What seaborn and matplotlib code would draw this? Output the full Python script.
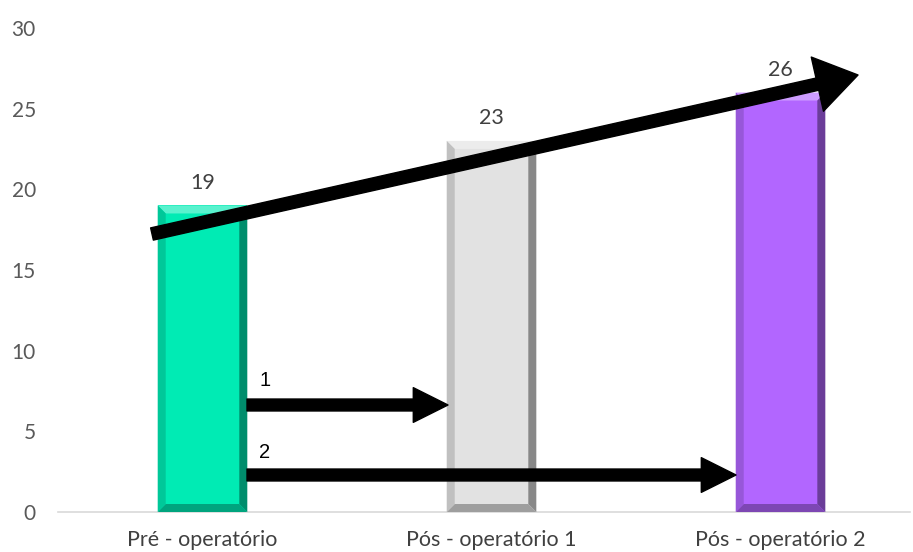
import matplotlib
matplotlib.use("Agg")
import matplotlib.pyplot as plt
import matplotlib.colors as mcolors
from matplotlib.patches import Polygon
import seaborn as sns
import pandas as pd

# Chart data
categories = ["Pré - operatório", "Pós - operatório 1", "Pós - operatório 2"]
values = [19, 23, 26]
bar_colors = ["#00EBB4", "#E2E2E2", "#B266FF"]
y_ticks = [0, 5, 10, 15, 20, 25, 30]
arrow_labels = ["1", "2"]

df = pd.DataFrame({"etapa": categories, "valor": values})

sns.set_theme(style="white")
plt.rcParams["font.family"] = ["Lato", "DejaVu Sans"]

W, H, DPI = 913, 552, 100
fig = plt.figure(figsize=(W / DPI, H / DPI), dpi=DPI)
ax = fig.add_axes([58 / W, (H - 512) / H, (910 - 58) / W, (512 - 28) / H])

sns.barplot(data=df, x="etapa", y="valor", hue="etapa", palette=bar_colors,
            width=0.31, legend=False, ax=ax, saturation=1)

ax.set_xlim(-0.5, 2.448)
ax.set_ylim(0, 30)
ax.set_yticks(y_ticks)
ax.set_xlabel("")
ax.set_ylabel("")
for s in ["top", "right", "left"]:
    ax.spines[s].set_visible(False)
ax.spines["bottom"].set_color("#D9D9D9")
ax.spines["bottom"].set_linewidth(1.2)
ax.tick_params(axis="y", length=0, pad=16, labelsize=15, labelcolor="#595959")
ax.tick_params(axis="x", length=0, pad=13, labelsize=15.5, labelcolor="#404040")


def shade(color, f):
    r, g, b = mcolors.to_rgb(color)
    if f < 1:
        return (r * f, g * f, b * f)
    t = f - 1
    return (r + (1 - r) * t, g + (1 - g) * t, b + (1 - b) * t)


# Bevelled edges on each bar, built from the bar geometry
bx = 8 / 289.0
by = 8 / (484 / 30.0)
for patch, col in zip(ax.patches, bar_colors):
    x0, w = patch.get_x(), patch.get_width()
    y1 = patch.get_height()
    x1 = x0 + w
    patch.set_edgecolor("none")
    faces = [
        ([(x0, y1), (x1, y1), (x1 - bx, y1 - by), (x0 + bx, y1 - by)], shade(col, 1.35)),
        ([(x1, y1), (x1, 0), (x1 - bx, by), (x1 - bx, y1 - by)], shade(col, 0.6)),
        ([(x0, 0), (x1, 0), (x1 - bx, by), (x0 + bx, by)], shade(col, 0.7)),
        ([(x0, y1), (x0, 0), (x0 + bx, by), (x0 + bx, y1 - by)], shade(col, 0.85)),
    ]
    for pts, c in faces:
        ax.add_patch(Polygon(pts, closed=True, facecolor=c, edgecolor="none", zorder=3))
    ax.text(x0 + w / 2, y1 + 0.8, f"{y1:g}", ha="center", va="bottom",
            fontsize=15.5, color="#404040", zorder=5)


def px_to_data(px, py):
    return ((px - 202.5) / 289.0, (512 - py) / (484 / 30.0))


def arrow(p0, p1, tail, head_w, head_l):
    ax.annotate("", xy=px_to_data(*p1), xytext=px_to_data(*p0),
                arrowprops=dict(arrowstyle=f"simple,head_length={head_l},head_width={head_w},tail_width={tail}",
                                mutation_scale=1, color="black", shrinkA=0, shrinkB=0),
                zorder=6, annotation_clip=False)


# Trend arrow across the bars
arrow((152, 234), (858, 75), 9, 40, 30)
# Comparison arrows from the first bar
arrow((247, 405), (448, 405), 8.6, 25, 25)
arrow((247, 475), (736, 475), 8.6, 25, 25)

for lab, (px, py) in zip(arrow_labels, [(265, 381), (265, 452)]):
    x, y = px_to_data(px, py)
    ax.text(x, y, lab, ha="center", va="center", fontsize=14.5,
            family=["Liberation Sans", "DejaVu Sans"], color="black", zorder=6)

fig.savefig("out.png", dpi=DPI)
